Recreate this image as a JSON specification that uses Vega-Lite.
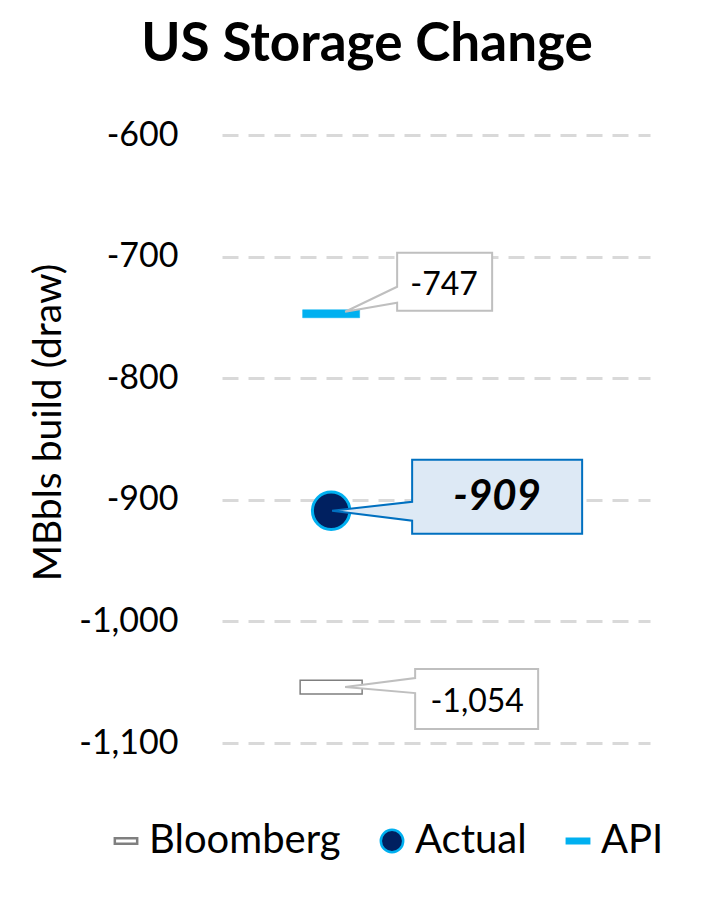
{
  "$schema": "https://vega.github.io/schema/vega-lite/v6.json",
  "width": 428,
  "height": 608,
  "autosize": "none",
  "padding": {"left": 222, "top": 135, "right": 55, "bottom": 169},
  "background": "white",
  "config": {"view": {"stroke": null}},
  "title": {"text": "US Storage Change", "fontSize": 53, "font": "Lato", "fontWeight": "bold", "color": "#000000", "anchor": "middle", "dx": -69, "offset": 46},
  "data": {"values": [
    {"week": "Current", "series": "Bloomberg", "value": -1054},
    {"week": "Current", "series": "Actual", "value": -909},
    {"week": "Current", "series": "API", "value": -747}
  ]},
  "transform": [{"calculate": "replace(format(datum.value, ',d'), '\u2212', '-')", "as": "label"}],
  "encoding": {
    "x": {"field": "week", "type": "nominal", "scale": {"type": "point", "align": 0.255, "round": false}, "axis": null},
    "y": {"field": "value", "type": "quantitative",
      "scale": {"domain": [-1100, -600], "nice": false, "zero": false},
      "axis": {"title": "MBbls build (draw)", "values": [-1100, -1000, -900, -800, -700, -600],
        "labelExpr": "replace(format(datum.value, ',d'), '\u2212', '-')",
        "domain": false, "ticks": false, "labelPadding": 44, "labelFontSize": 34, "labelFont": "Lato", "labelColor": "#000000",
        "titleFont": "Lato", "titleFontSize": 39, "titleFontWeight": "normal", "titleColor": "#000000", "titleX": -174, "titleY": 287, "titleBaseline": "middle",
        "grid": true, "gridDash": [16, 10], "gridColor": "#d9d9d9", "gridWidth": 3}}
  },
  "layer": [
    {
      "transform": [{"filter": "datum.series === 'Bloomberg'"}],
      "mark": {"type": "point", "filled": true, "opacity": 1, "size": 3844, "shape": "M-1,-0.22L1,-0.22L1,0.22L-1,0.22Z", "fill": "#ffffff", "stroke": "#7f7f7f", "strokeWidth": 1.5}
    },
    {
      "transform": [{"filter": "datum.series === 'Actual'"}],
      "mark": {"type": "point", "filled": true, "opacity": 1, "size": 1400, "shape": "circle", "fill": "#002060", "stroke": "#00b0f0", "strokeWidth": 3}
    },
    {
      "transform": [{"filter": "datum.series === 'API'"}],
      "mark": {"type": "point", "filled": true, "opacity": 1, "size": 3249, "shape": "M-1,-0.14L1,-0.14L1,0.14L-1,0.14Z", "fill": "#00b0f0", "stroke": "#00b0f0", "strokeWidth": 0.5}
    },
    {
      "mark": {"type": "point", "filled": true, "opacity": 0, "size": 1},
      "encoding": {
        "shape": {"field": "series", "type": "nominal",
          "scale": {"domain": ["Bloomberg", "Actual", "API"], "range": ["M-1,-0.25L1,-0.25L1,0.25L-1,0.25Z", "circle", "M-1,-0.2L1,-0.2L1,0.2L-1,0.2Z"]},
          "legend": {"title": null, "orient": "none", "legendX": -116, "legendY": 686, "direction": "horizontal", "symbolOpacity": 1, "labelFontSize": 40, "labelFont": "Lato", "labelColor": "#000000", "labelLimit": 400, "symbolSize": 500, "symbolStrokeWidth": 2.5, "columnPadding": 31, "labelOffset": 3}},
        "fill": {"field": "series", "type": "nominal",
          "scale": {"domain": ["Bloomberg", "Actual", "API"], "range": ["#ffffff", "#002060", "#00b0f0"]}},
        "stroke": {"field": "series", "type": "nominal",
          "scale": {"domain": ["Bloomberg", "Actual", "API"], "range": ["#7f7f7f", "#00b0f0", "#00b0f0"]}}
      }
    },
    {
      "transform": [{"filter": "datum.series === 'API'"}],
      "mark": {"type": "point", "filled": true, "opacity": 1, "size": 4, "shape": "M14,-2L66,-11L66,-3L161,-3L161,-61L66,-61L66,-27Z", "fill": "#ffffff", "stroke": "#bfbfbf", "strokeWidth": 2, "strokeJoin": "miter"}
    },
    {
      "transform": [{"filter": "datum.series === 'Actual'"}],
      "mark": {"type": "point", "filled": true, "opacity": 1, "size": 4, "shape": "M1,0L81,10L81,23L251,23L251,-51L81,-51L81,-9Z", "fill": "#dde9f5", "stroke": "#0070c0", "strokeWidth": 2, "strokeJoin": "miter"}
    },
    {
      "transform": [{"filter": "datum.series === 'Bloomberg'"}],
      "mark": {"type": "point", "filled": true, "opacity": 1, "size": 4, "shape": "M14,0L84,-9L84,-18L207,-18L207,42L84,42L84,6Z", "fill": "#ffffff", "stroke": "#bfbfbf", "strokeWidth": 2, "strokeJoin": "miter"}
    },
    {
      "transform": [{"filter": "datum.series === 'API'"}],
      "mark": {"type": "text", "dx": 113, "dy": -29, "align": "center", "baseline": "middle", "font": "Lato", "fontSize": 32, "color": "#000000"},
      "encoding": {"text": {"field": "label", "type": "nominal"}}
    },
    {
      "transform": [{"filter": "datum.series === 'Actual'"}],
      "mark": {"type": "text", "dx": 166, "dy": -14, "align": "center", "baseline": "middle", "font": "Lato", "fontSize": 42, "fontWeight": "bold", "fontStyle": "italic", "color": "#000000"},
      "encoding": {"text": {"field": "label", "type": "nominal"}}
    },
    {
      "transform": [{"filter": "datum.series === 'Bloomberg'"}],
      "mark": {"type": "text", "dx": 146, "dy": 15, "align": "center", "baseline": "middle", "font": "Lato", "fontSize": 32, "color": "#000000"},
      "encoding": {"text": {"field": "label", "type": "nominal"}}
    }
  ]
}
